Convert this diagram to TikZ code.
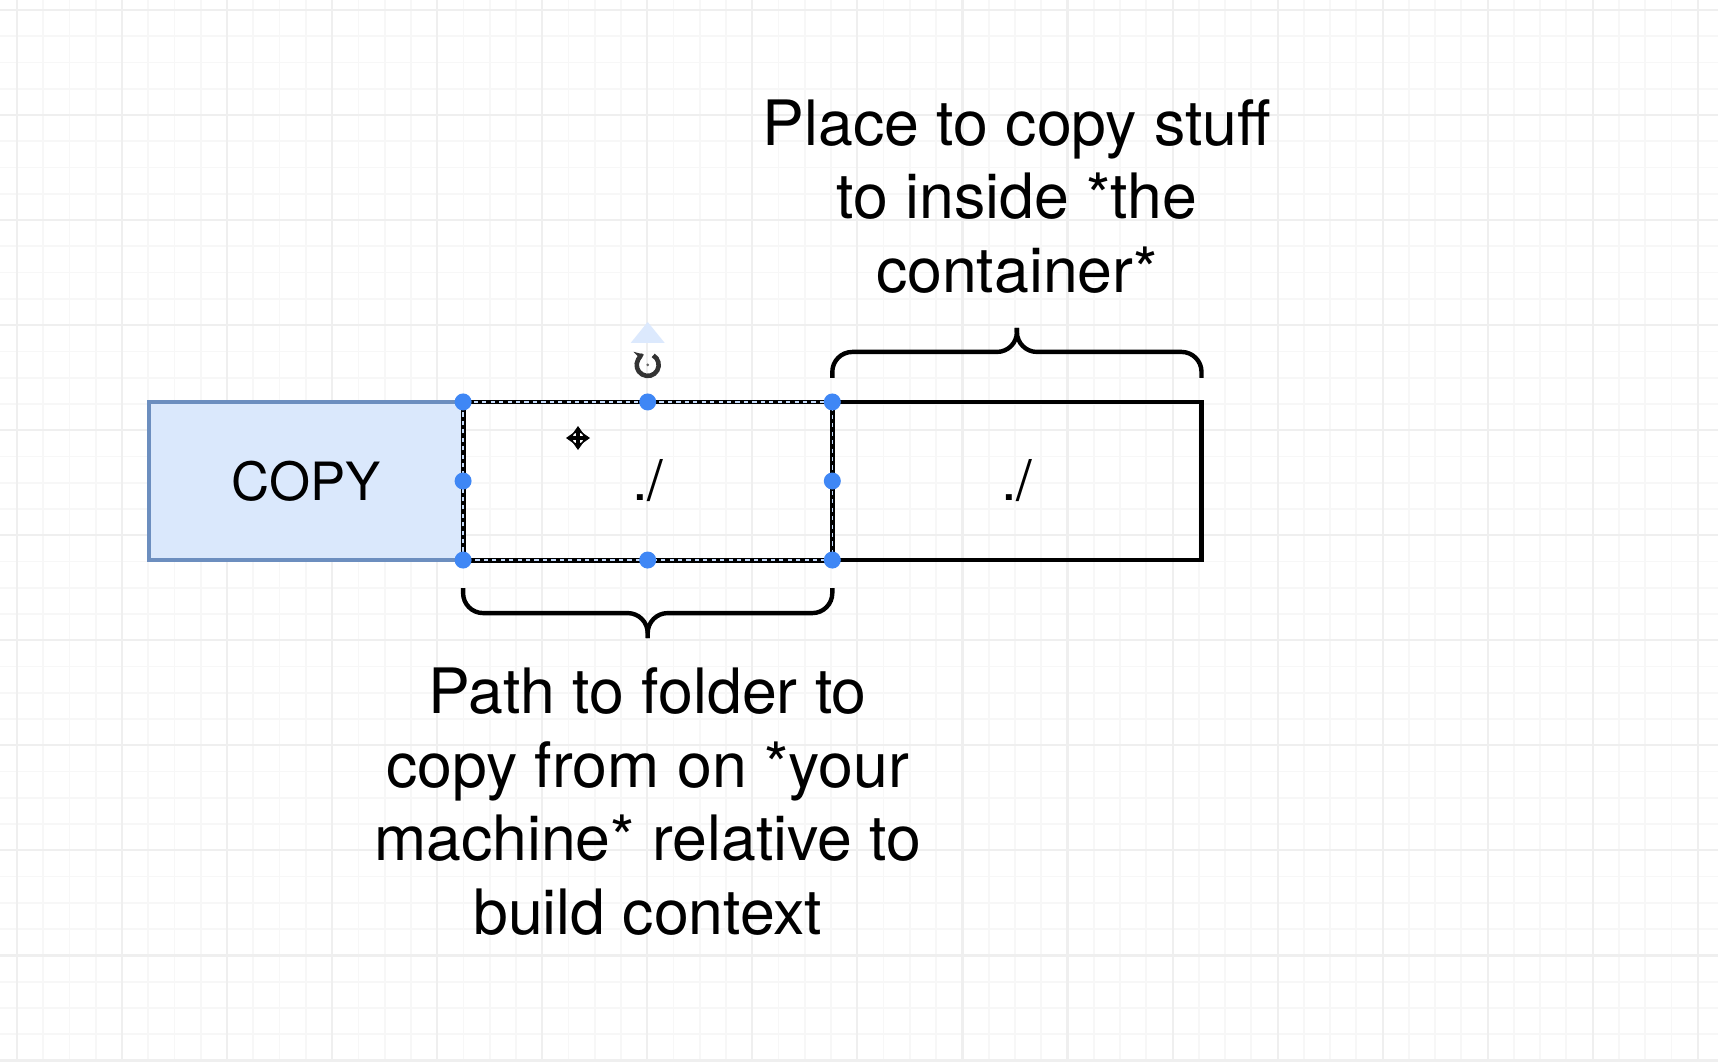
\documentclass[tikz,border=0pt]{standalone}
\usepackage{fontspec}
\setmainfont{TeX Gyre Heros}
\usetikzlibrary{arrows,arrows.meta,positioning}

\definecolor{copyfill}{HTML}{DAE8FC}
\definecolor{copyline}{HTML}{6C8EBF}
\definecolor{handleblue}{HTML}{3F87F5}
\definecolor{gridminor}{HTML}{F7F7F7}
\definecolor{gridmajor}{HTML}{EFEFEF}

\begin{document}
\begin{tikzpicture}[x=0.01cm,y=0.01cm,>=stealth',
	box/.style={draw=black,line width=1.3pt,minimum width=3.69cm,minimum height=1.58cm,
		inner sep=0pt,outer sep=0pt,font=\fontsize{16}{19}\selectfont},
	copybox/.style={box,fill=copyfill,draw=copyline,line width=1.1pt,minimum width=3.14cm,
		font=\fontsize{15}{18}\selectfont},
	curly/.style={draw,line width=1.25pt,rounded corners=0.2cm},
	note/.style={align=center,inner sep=0pt,font=\fontsize{17.8}{20.9}\selectfont},
	handle/.style={fill=handleblue},
	tiny/.style={-{Stealth[length=2.5pt,width=3.5pt]}}]
	% canvas with grid
	\useasboundingbox (0,0) rectangle (1718,1062);
	\fill[white] (0,0) rectangle (1718,1062);
	\foreach \i in {0,...,66} \draw[gridminor,line width=0.5pt] (-9.26+26.26*\i,0) -- (-9.26+26.26*\i,1062);
	\foreach \j in {-1,...,40} \draw[gridminor,line width=0.5pt] (0,1052-26.26*\j) -- (1718,1052-26.26*\j);
	\foreach \i in {0,...,16} \draw[gridmajor,line width=0.6pt] (17+105.05*\i,0) -- (17+105.05*\i,1062);
	\foreach \j in {0,...,10} \draw[gridmajor,line width=0.6pt] (0,1052-105.05*\j) -- (1718,1052-105.05*\j);
	
	\node[copybox](copy) at (306,581){COPY};
	\node[box,draw=none](src)[right=0pt of copy]{./};
	\node[box](dest)[right=0pt of src]{./};
	% selected cell
	\draw[line width=1.4pt] (src.south west) rectangle (src.north east);
	\draw[handleblue!30,line width=0.35pt,dash pattern=on 1.2pt off 1.2pt] (src.south west) rectangle (src.north east);
	
	% braces
	\coordinate[above=0.74cm of dest.north](toptip);
	\draw[curly] ([yshift=0.24cm]dest.north west) |- ([yshift=0.5cm]dest.north) -- (toptip);
	\draw[curly] ([yshift=0.24cm]dest.north east) |- ([yshift=0.5cm]dest.north) -- (toptip);
	\coordinate[below=0.78cm of src.south](bottip);
	\draw[curly] ([yshift=-0.28cm]src.south west) |- ([yshift=-0.53cm]src.south) -- (bottip);
	\draw[curly] ([yshift=-0.28cm]src.south east) |- ([yshift=-0.53cm]src.south) -- (bottip);
	
	\node[note](topnote)[above=0.34cm of toptip]{Place to copy stuff\\to inside *the\\container*};
	\node[note](botnote)[below=0.29cm of bottip]{Path to folder to\\copy from on *your\\machine* relative to\\build context};
	
	% handles, rotate and move marks
	\foreach \a in {north west,north,north east,west,east,south west,south,south east}
		\fill[handle] (src.\a) circle[radius=8.5];
	\coordinate[above=0.37cm of src.north](rot);
	\fill[handleblue!18] ([shift={(-17,22)}]rot) -- ([shift={(17,22)}]rot) -- ([shift={(0,43)}]rot) -- cycle;
	\draw[tiny,line width=1.3pt,black!80] ([shift={(60:11)}]rot) arc[start angle=60,end angle=-250,radius=11];
	\fill[black!60] (rot) circle[radius=1.5];
	\coordinate (mv) at (578,624);
	\draw[tiny,line width=0.9pt] (mv) -- ([xshift=0.12cm]mv);
	\draw[tiny,line width=0.9pt] (mv) -- ([xshift=-0.12cm]mv);
	\draw[tiny,line width=0.9pt] (mv) -- ([yshift=0.12cm]mv);
	\draw[tiny,line width=0.9pt] (mv) -- ([yshift=-0.12cm]mv);
\end{tikzpicture}
\end{document}
